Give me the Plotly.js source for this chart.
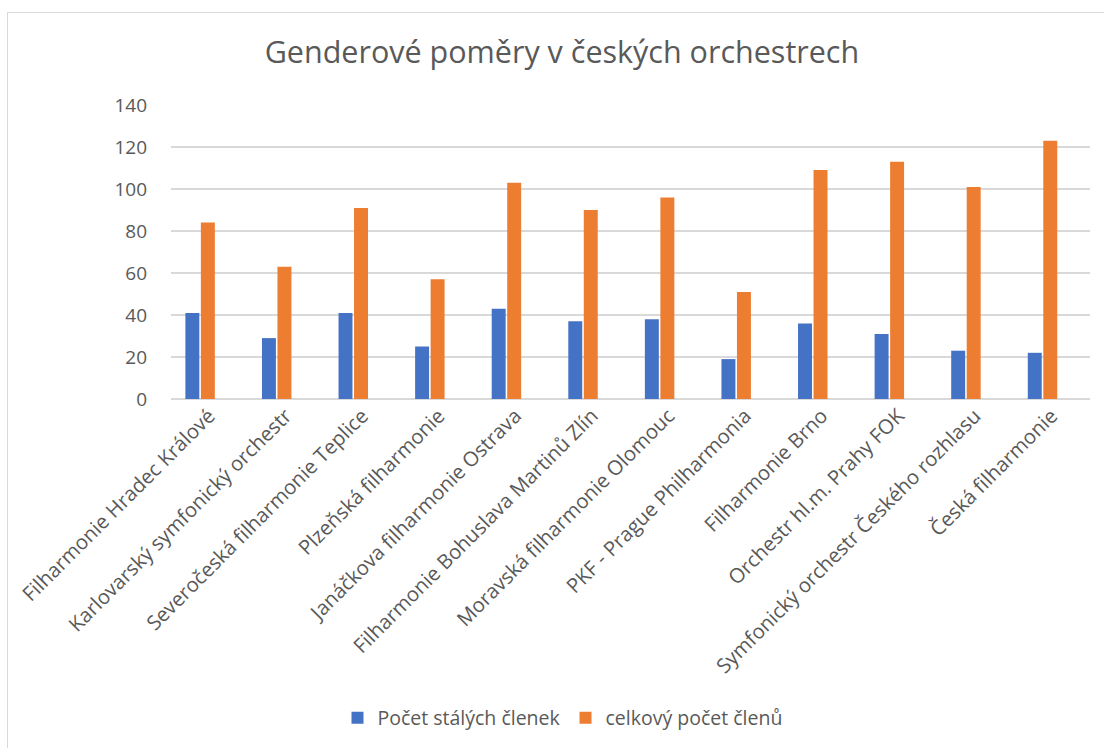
<!DOCTYPE html>
<html>
<head>
<meta charset="utf-8">
<script src="https://cdn.plot.ly/plotly-3.0.1.min.js"></script>
<style>
  html, body { margin: 0; padding: 0; background: #fff; }
  #wrap { position: relative; width: 1104px; height: 748px; overflow: hidden; }
  #chart { position: absolute; left: 0; top: 0; width: 1104px; height: 748px; }
  #frame { position: absolute; left: 7px; top: 12px; width: 1200px; height: 800px; border: 1px solid #d9d9d9; pointer-events: none; }
</style>
</head>
<body>
<div id="wrap">
  <div id="chart"></div>
  <div id="frame"></div>
</div>
<script>
const categories = [
  "Filharmonie Hradec Králové",
  "Karlovarský symfonický orchestr",
  "Severočeská filharmonie Teplice",
  "Plzeňská filharmonie",
  "Janáčkova filharmonie Ostrava",
  "Filharmonie Bohuslava Martinů Zlín",
  "Moravská filharmonie Olomouc",
  "PKF - Prague Philharmonia",
  "Filharmonie Brno",
  "Orchestr hl.m. Prahy FOK",
  "Symfonický orchestr Českého rozhlasu",
  "Česká filharmonie"
];
const seriesNames = ["Počet stálých členek", "celkový počet členů"];
const womenCount = [41, 29, 41, 25, 43, 37, 38, 19, 36, 31, 23, 22];
const totalCount = [84, 63, 91, 57, 103, 90, 96, 51, 109, 113, 101, 123];
const yTicks = [0, 20, 40, 60, 80, 100, 120, 140];
const titleText = "Genderové poměry v českých orchestrech";

const fontFam = "'Open Sans', 'Noto Sans', sans-serif";
const textCol = "#595959";

const traces = [
  { type: "bar", name: seriesNames[0], x: categories, y: womenCount,
    marker: { color: "#4472C4" }, hoverinfo: "x+y" },
  { type: "bar", name: seriesNames[1], x: categories, y: totalCount,
    marker: { color: "#ED7D31" }, hoverinfo: "x+y" }
];

const layout = {
  width: 1104, height: 748,
  paper_bgcolor: "rgba(0,0,0,0)", plot_bgcolor: "#fff",
  margin: { l: 171, r: 14, t: 105, b: 348 },
  font: { family: fontFam, color: textCol },
  title: { text: titleText, font: { size: 30.5, color: textCol, family: fontFam },
           x: 0.509, xanchor: "center", y: 0.930, yanchor: "middle" },
  barmode: "group", bargap: 0.595, bargroupgap: 0.1,
  xaxis: {
    type: "category", range: [-0.38, 11.62],
    tickangle: -45, tickfont: { size: 20.3, color: textCol },
    ticklabelshift: 9,
    showgrid: false, zeroline: false, showline: false, ticks: "",
    fixedrange: true
  },
  yaxis: {
    range: [0, 140], tickvals: yTicks, ticktext: yTicks.map(String),
    tickfont: { size: 19, color: textCol },
    showgrid: true, gridcolor: "#d9d9d9", gridwidth: 1.3,
    zeroline: true, zerolinecolor: "#d9d9d9", zerolinewidth: 1.3,
    showline: false, ticks: "", ticklabelstandoff: 23, fixedrange: true
  },
  showlegend: true,
  legend: { orientation: "h", x: 0.426, xanchor: "center", y: -1.078, yanchor: "middle",
            font: { size: 19.5, color: textCol }, itemwidth: 30, traceorder: "normal" }
};

Plotly.newPlot("chart", traces, layout, { displayModeBar: false, staticPlot: true });
</script>
</body>
</html>
